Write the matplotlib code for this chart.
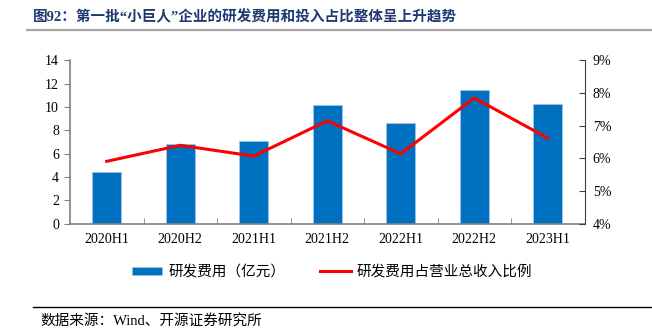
import matplotlib
matplotlib.use("Agg")
import matplotlib.pyplot as plt
from matplotlib.lines import Line2D
from matplotlib.ticker import FuncFormatter

plt.rcParams['font.family'] = ['Liberation Serif', 'Noto Sans CJK SC']

periods = ['2020H1', '2020H2', '2021H1', '2021H2', '2022H1', '2022H2', '2023H1']
rd_expense = [4.4, 6.8, 7.1, 10.2, 8.6, 11.5, 10.3]
rd_ratio = [5.91, 6.40, 6.07, 7.15, 6.14, 7.85, 6.62]

title = '图92：第一批“小巨人”企业的研发费用和投入占比整体呈上升趋势'
bar_label = '研发费用（亿元）'
line_label = '研发费用占营业总收入比例'
source = '数据来源：Wind、开源证券研究所'

W, H = 652, 334
fig = plt.figure(figsize=(W / 100, H / 100), dpi=100, facecolor='w')

ax = fig.add_axes([70 / W, 1 - 223.7 / H, 514.5 / W, 163.3 / H])
x = range(len(periods))
bars = ax.bar(x, rd_expense, width=0.4, color='#0070C0', edgecolor='#9DC3E6', linewidth=0.6, zorder=2)
ax.set_xlim(-0.5, len(periods) - 0.5)
ax.set_ylim(0, 14)
ax.set_yticks(range(0, 15, 2))
ax.set_xticks(list(x))
ax.set_xticklabels(periods, fontsize=10)
ax.set_xticks([i + 0.5 for i in range(len(periods) - 1)], minor=True)
ax.tick_params(axis='x', which='major', length=0, pad=7)
ax.tick_params(axis='x', which='minor', direction='in', length=4, color='#808080')
ax.tick_params(axis='y', direction='out', length=4, color='#808080', labelsize=10, pad=4)
for s in ['top', 'right']:
    ax.spines[s].set_visible(False)
for s in ['left', 'bottom']:
    ax.spines[s].set_color('#808080')
    ax.spines[s].set_linewidth(1.2)

ax2 = ax.twinx()
line, = ax2.plot(list(x), rd_ratio, color='#FF0000', linewidth=2.2, zorder=3)
ax2.set_ylim(4, 9)
ax2.set_yticks(range(4, 10))
ax2.yaxis.set_major_formatter(FuncFormatter(lambda v, p: f'{v:.0f}%'))
ax2.tick_params(axis='y', direction='in', length=4, color='#404040', labelsize=10, pad=6)
for s in ['top', 'left', 'bottom']:
    ax2.spines[s].set_visible(False)
ax2.spines['right'].set_color('#404040')

fig.text(33 / W, 1 - 17 / H, title, fontsize=10.5, fontweight='bold', color='#1F3A70',
         va='center', ha='left')
fig.add_artist(Line2D([27 / W, 1], [1 - 30 / H] * 2, color='#A6A6A6', linewidth=1.6))

handles = [bars, Line2D([0], [0], color='#FF0000', linewidth=2.2)]
fig.legend(handles, [bar_label, line_label], loc='center', bbox_to_anchor=(332 / W, 1 - 272 / H),
           ncol=2, frameon=False, fontsize=10.5, handlelength=2.1, handleheight=0.5,
           handletextpad=0.4, columnspacing=2.4)

fig.add_artist(Line2D([33 / W, 1], [1 - 307 / H] * 2, color='#000000', linewidth=1.0))
fig.text(40 / W, 1 - 321 / H, source, fontsize=10.5, va='center', ha='left')

fig.savefig('out.png', dpi=100, facecolor='w')
